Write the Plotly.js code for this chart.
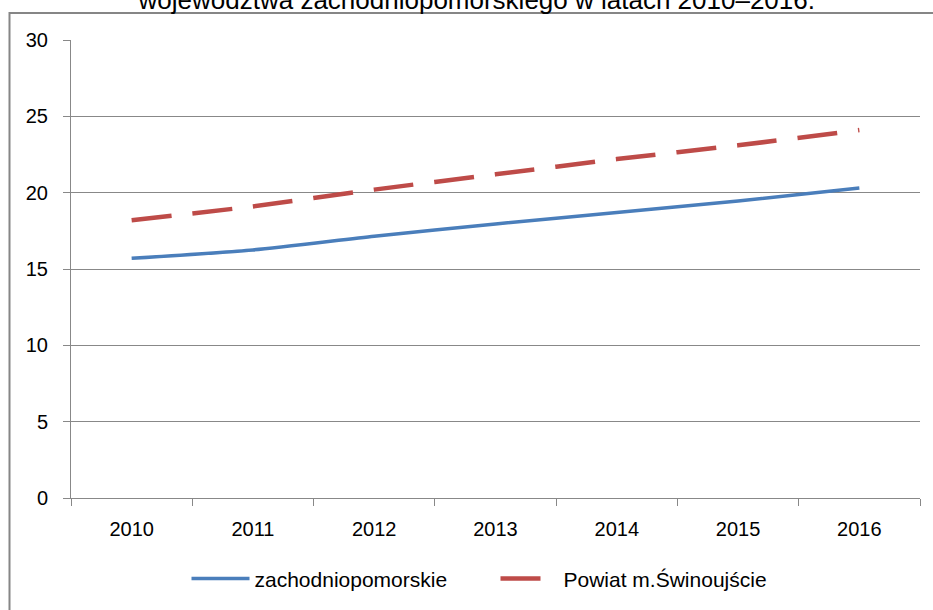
<!DOCTYPE html>
<html>
<head>
<meta charset="utf-8">
<script src="https://cdn.plot.ly/plotly-3.0.1.min.js"></script>
<style>
  html, body { margin: 0; padding: 0; background: #fff; }
  #chart { width: 933px; height: 610px; }
</style>
</head>
<body>
<div id="chart"></div>
<script>
const years = ['2010', '2011', '2012', '2013', '2014', '2015', '2016'];
const zachodniopomorskie = [15.7, 16.25, 17.15, 17.95, 18.7, 19.45, 20.3];
const swinoujscie = [18.2, 19.1, 20.2, 21.2, 22.2, 23.1, 24.1];
const seriesNames = ['zachodniopomorskie', 'Powiat m.Świnoujście'];
const yTicks = [0, 5, 10, 15, 20, 25, 30];
const titleText = 'województwa zachodniopomorskiego w latach 2010–2016.';

const FONT = 'Liberation Sans, Arial, sans-serif';

const traces = [
  {
    x: years, y: zachodniopomorskie, name: seriesNames[0],
    type: 'scatter', mode: 'lines',
    line: { color: '#4A7EBB', width: 3.5, shape: 'spline', smoothing: 0.6 }
  },
  {
    x: years, y: swinoujscie, name: seriesNames[1],
    type: 'scatter', mode: 'lines',
    line: { color: '#BE4B48', width: 4.5, dash: '40px,21px', shape: 'spline', smoothing: 0.6 }
  }
];

const layout = {
  width: 933, height: 610,
  margin: { l: 71, r: 13, t: 40, b: 111 },
  paper_bgcolor: '#ffffff', plot_bgcolor: '#ffffff',
  font: { family: FONT, size: 20, color: '#000000' },
  showlegend: true,
  title: {
    text: titleText,
    x: 0.511, xref: 'container', xanchor: 'center',
    y: 1, yref: 'container', yanchor: 'middle',
    font: { family: FONT, size: 26, color: '#000' }
  },
  xaxis: {
    type: 'category',
    range: [-0.5, 6.5],
    showgrid: false,
    showline: true, linecolor: '#888888', linewidth: 1,
    ticks: 'outside', tickson: 'boundaries', ticklen: 7, tickcolor: '#888888',
    ticklabelstandoff: 13,
    tickfont: { family: FONT, size: 20, color: '#000' },
    zeroline: false, fixedrange: true
  },
  yaxis: {
    range: [0, 30],
    tickvals: yTicks,
    ticktext: yTicks.map(String),
    showgrid: true, gridcolor: '#888888', gridwidth: 1,
    showline: true, linecolor: '#888888', linewidth: 1,
    ticks: 'outside', ticklen: 7, tickcolor: '#888888',
    ticklabelstandoff: 11,
    tickfont: { family: FONT, size: 20, color: '#000' },
    zeroline: false, fixedrange: true
  },
  legend: {
    orientation: 'h',
    x: 0.5, xanchor: 'center',
    y: -0.174, yanchor: 'middle',
    itemwidth: 58,
    entrywidth: 236,
    font: { family: FONT, size: 21, color: '#000' },
    bgcolor: 'rgba(0,0,0,0)'
  },
  shapes: [
    {
      type: 'rect', xref: 'paper', yref: 'paper',
      x0: (9.5 - 71) / 849, x1: (945 - 71) / 849,
      y0: (499 - 625) / 459, y1: (499 - 13) / 459,
      line: { color: '#868686', width: 2 },
      fillcolor: 'rgba(0,0,0,0)', layer: 'below'
    }
  ]
};

Plotly.newPlot('chart', traces, layout, { staticPlot: true, displayModeBar: false });
</script>
</body>
</html>
